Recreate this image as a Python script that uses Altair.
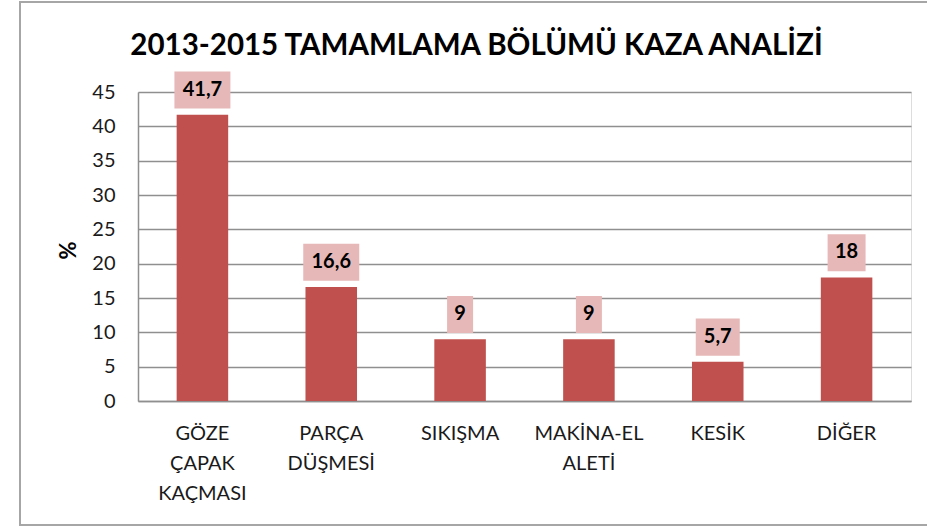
import altair as alt
import pandas as pd

categories = ["GÖZE ÇAPAK KAÇMASI", "PARÇA DÜŞMESİ", "SIKIŞMA", "MAKİNA-EL ALETİ", "KESİK", "DİĞER"]
values = [41.7, 16.6, 9, 9, 5.7, 18]
value_labels = ["41,7", "16,6", "9", "9", "5,7", "18"]
y_ticks = [0, 5, 10, 15, 20, 25, 30, 35, 40, 45]
title_text = "2013-2015 TAMAMLAMA BÖLÜMÜ KAZA ANALİZİ"

df = pd.DataFrame({"cat": categories, "val": values, "lab": value_labels})

FONT = "Lato"
GRID = "#8f8f8f"

x_axis = alt.Axis(labelAngle=0, labelExpr="split(datum.label, ' ')", labelFont=FONT,
                  labelFontSize=20, labelColor="#1a1a1a", labelLineHeight=30,
                  labelPadding=22, ticks=False, domainColor=GRID, domainWidth=1.5,
                  grid=False, labelBaseline="top")
x_scale = alt.Scale(paddingInner=0.6, paddingOuter=0.3)

y_axis = alt.Axis(values=y_ticks, grid=True, gridColor=GRID, gridWidth=1.5,
                  domainColor=GRID, domainWidth=1.5, ticks=False, tickSize=0,
                  labelOverlap=False, labelPadding=23, labelFont=FONT,
                  labelFontSize=20, labelColor="#1a1a1a", titleFont=FONT,
                  titleFontSize=22, titleFontWeight="bold", titleColor="#000000",
                  titleAngle=270, titleX=-70, titleY=158, titleAlign="center",
                  titleBaseline="middle")
y_scale = alt.Scale(domain=[0, 45], nice=False, zero=True)


def xe():
    return alt.X("cat:N", sort=categories, title=None, scale=x_scale, axis=x_axis)


def ye(field):
    return alt.Y(field, scale=y_scale, title="%", axis=y_axis)


one = pd.DataFrame({"t": [title_text]})
border = alt.Chart(one).mark_rect(fill=None, stroke="#a6a6a6", strokeWidth=2).encode(
    x=alt.value(-118), x2=alt.value(900), y=alt.value(-90), y2=alt.value(433)
)

title = alt.Chart(one).mark_text(font=FONT, fontSize=29.5, fontWeight="bold", color="#000000",
                                 align="center", baseline="alphabetic").encode(
    x=alt.value(338.5), y=alt.value(-37), text="t:N"
)

bars = alt.Chart(df).mark_bar(color="#C0504D").encode(x=xe(), y=ye("val:Q"))

boxes = alt.Chart(df).transform_calculate(
    b0="datum.val + 0.9",
    b1="datum.val + 6.3",
    w="14 + 12*length(replace(datum.lab, ',', '')) + (indexof(datum.lab, ',') >= 0 ? 6 : 0)",
).mark_bar(color="#E6B9B8").encode(
    x=xe(),
    y=ye("b0:Q"),
    y2="b1:Q",
    size=alt.Size("w:Q", scale=None, legend=None),
)

texts = alt.Chart(df).mark_text(font=FONT, fontSize=20, fontWeight="bold", color="#000000",
                                baseline="middle", dy=-25).encode(
    x=xe(),
    y=ye("val:Q"),
    text="lab:N",
)

chart = alt.layer(border, title, bars, boxes, texts).properties(
    width=773, height=309,
    autosize=alt.AutoSizeParams(type="none"),
    padding={"left": 138, "top": 92, "right": 16, "bottom": 126},
).configure_view(stroke="transparent", strokeWidth=0).configure(background="white")

chart.save("out.html", embed_options={"renderer": "svg", "actions": False})
